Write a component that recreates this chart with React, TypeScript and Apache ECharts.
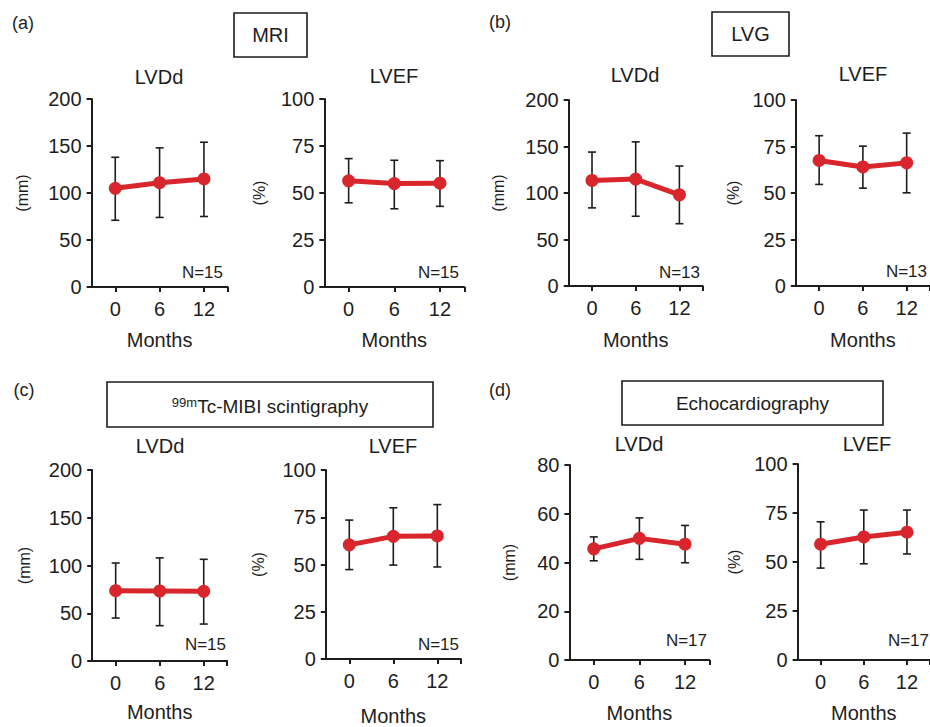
import React, { useEffect, useRef } from "react";
import * as echarts from "echarts";

const months = [0, 6, 12];

const mriLvddMean = [105, 111, 115];
const mriLvddUpper = [138, 148, 154];
const mriLvddLower = [71, 74, 75];
const mriLvefMean = [56.5, 55, 55.2];
const mriLvefUpper = [68.3, 67.4, 67.2];
const mriLvefLower = [44.8, 41.6, 42.9];

const lvgLvddMean = [113.5, 115, 98];
const lvgLvddUpper = [144, 155, 129];
const lvgLvddLower = [84, 75, 67];
const lvgLvefMean = [67.5, 64, 66.2];
const lvgLvefUpper = [80.8, 75.2, 82.2];
const lvgLvefLower = [54.6, 52.6, 50.1];

const mibiLvddMean = [73.6, 73.3, 73];
const mibiLvddUpper = [102.6, 108, 106.5];
const mibiLvddLower = [45, 37, 38.7];
const mibiLvefMean = [60.4, 64.9, 65.1];
const mibiLvefUpper = [73.5, 80, 81.7];
const mibiLvefLower = [47.3, 49.7, 48.7];

const echoLvddMean = [45.6, 49.9, 47.5];
const echoLvddUpper = [50.5, 58.3, 55.2];
const echoLvddLower = [40.7, 41.3, 39.9];
const echoLvefMean = [59.1, 62.8, 65.2];
const echoLvefUpper = [70.5, 76.5, 76.5];
const echoLvefLower = [46.9, 49.1, 54.1];

const panelLabels = ["(a)", "(b)", "(c)", "(d)"];
const modalityTitles = ["MRI", "LVG", "99mTc-MIBI scintigraphy", "Echocardiography"];
const plotTitles = ["LVDd", "LVEF", "LVDd", "LVEF", "LVDd", "LVEF", "LVDd", "LVEF"];
const unitLabels = ["(mm)", "(%)", "(mm)", "(%)", "(mm)", "(%)", "(mm)", "(%)"];
const nLabels = ["N=15", "N=15", "N=13", "N=13", "N=15", "N=15", "N=17", "N=17"];
const yMaxes = [200, 100, 200, 100, 200, 100, 80, 100];
const yIntervals = [50, 25, 50, 25, 50, 25, 20, 25];
const xTickLabels = [0, 6, 12];
const xAxisTitle = "Months";

const seriesMeans = [mriLvddMean, mriLvefMean, lvgLvddMean, lvgLvefMean, mibiLvddMean, mibiLvefMean, echoLvddMean, echoLvefMean];
const seriesUpper = [mriLvddUpper, mriLvefUpper, lvgLvddUpper, lvgLvefUpper, mibiLvddUpper, mibiLvefUpper, echoLvddUpper, echoLvefUpper];
const seriesLower = [mriLvddLower, mriLvefLower, lvgLvddLower, lvgLvefLower, mibiLvddLower, mibiLvefLower, echoLvddLower, echoLvefLower];

// layout (pixels)
const X_MIN = -3.2;
const X_MAX = 15.2;
const grids = [
  { left: 91.6, top: 99, width: 136, height: 188, yGap: 61, xGap: 43 },
  { left: 324.3, top: 99, width: 140, height: 188, yGap: 57, xGap: 43 },
  { left: 568.7, top: 100, width: 134, height: 186, yGap: 62, xGap: 44 },
  { left: 795.8, top: 100, width: 135, height: 186, yGap: 54, xGap: 44 },
  { left: 92.2, top: 470, width: 135, height: 191, yGap: 60, xGap: 41 },
  { left: 325.8, top: 470, width: 135, height: 191, yGap: 59, xGap: 47 },
  { left: 569.4, top: 465, width: 140, height: 195, yGap: 52, xGap: 43 },
  { left: 797.6, top: 464, width: 136.5, height: 196, yGap: 55, xGap: 43 },
];
const plotTitlePos = [
  [159, 77], [394, 76], [635, 75], [863, 74],
  [160, 446], [393, 446], [639, 444], [867, 444],
];
const nPos = [
  [223, 272], [459, 272], [700, 272], [927, 271],
  [226, 644], [459, 644], [707, 640], [929, 640],
];
const panelLabelPos = [[23, 23], [500, 22], [24, 390], [500, 390]];
const boxes = [
  { x: 234, y: 13, w: 73, h: 44 },
  { x: 712, y: 12, w: 77, h: 44 },
  { x: 107, y: 382, w: 326, h: 45 },
  { x: 622, y: 381, w: 261, h: 44 },
];

const FONT = "'Liberation Sans', Arial, Helvetica, sans-serif";
const INK = "#1d1d1d";
const RED = "#d8262c";

export default function App() {
  const ref = useRef<HTMLDivElement>(null);

  useEffect(() => {
    if (!ref.current) return;
    const chart = echarts.init(ref.current, null, { renderer: "svg" });

    const gridOpt = grids.map((g) => ({ left: g.left, top: g.top, width: g.width, height: g.height, containLabel: false }));

    const xAxes = grids.map((g, i) => ({
      type: "value",
      gridIndex: i,
      min: X_MIN,
      max: X_MAX,
      name: xAxisTitle,
      nameLocation: "middle",
      nameGap: g.xGap,
      nameTextStyle: { fontFamily: FONT, fontSize: 20, color: INK },
      axisLine: { show: true, onZero: false, lineStyle: { color: INK, width: 2 } },
      axisTick: { show: true, length: 5, lineStyle: { color: INK, width: 2 }, customValues: [0, 6, 12, X_MAX] },
      axisLabel: { fontFamily: FONT, fontSize: 20, color: INK, margin: 12, customValues: xTickLabels },
      splitLine: { show: false },
    }));

    const yAxes = grids.map((g, i) => ({
      type: "value",
      gridIndex: i,
      min: 0,
      max: yMaxes[i],
      interval: yIntervals[i],
      name: unitLabels[i],
      nameLocation: "middle",
      nameRotate: 90,
      nameGap: g.yGap,
      nameTextStyle: { fontFamily: FONT, fontSize: 16, color: INK },
      axisLine: { show: true, onZero: false, lineStyle: { color: INK, width: 2 } },
      axisTick: { show: true, length: 5, lineStyle: { color: INK, width: 2 } },
      axisLabel: { fontFamily: FONT, fontSize: 20, color: INK, margin: 10 },
      splitLine: { show: false },
    }));

    const series: any[] = [];
    for (let i = 0; i < 8; i++) {
      const errData = months.map((m, k) => [m, seriesMeans[i][k], seriesLower[i][k], seriesUpper[i][k]]);
      series.push({
        type: "custom",
        xAxisIndex: i,
        yAxisIndex: i,
        z: 1,
        data: errData,
        renderItem: (params: any, api: any) => {
          const x = api.value(0);
          const lo = api.coord([x, api.value(2)]);
          const hi = api.coord([x, api.value(3)]);
          const cap = 4;
          const style = { stroke: INK, lineWidth: 1.6 };
          return {
            type: "group",
            children: [
              { type: "line", shape: { x1: hi[0], y1: hi[1], x2: lo[0], y2: lo[1] }, style },
              { type: "line", shape: { x1: hi[0] - cap, y1: hi[1], x2: hi[0] + cap, y2: hi[1] }, style },
              { type: "line", shape: { x1: lo[0] - cap, y1: lo[1], x2: lo[0] + cap, y2: lo[1] }, style },
            ],
          };
        },
      });
      series.push({
        type: "line",
        xAxisIndex: i,
        yAxisIndex: i,
        z: 3,
        data: months.map((m, k) => [m, seriesMeans[i][k]]),
        symbol: "circle",
        symbolSize: 13,
        lineStyle: { color: RED, width: 5 },
        itemStyle: { color: RED },
      });
    }

    const graphics: any[] = [];
    panelLabels.forEach((t, i) => {
      graphics.push({
        type: "text",
        x: panelLabelPos[i][0],
        y: panelLabelPos[i][1],
        style: { text: t, font: `18px ${FONT}`, fill: INK, textAlign: "center", textVerticalAlign: "middle" },
      });
    });
    boxes.forEach((b, i) => {
      graphics.push({
        type: "rect",
        shape: { x: b.x, y: b.y, width: b.w, height: b.h },
        style: { fill: "#ffffff", stroke: INK, lineWidth: 1.6 },
      });
      const title = modalityTitles[i];
      if (title.startsWith("99m")) {
        graphics.push({
          type: "text",
          x: b.x + b.w / 2,
          y: b.y + b.h / 2,
          style: {
            text: "{sup|99m}{main|" + title.slice(3) + "}",
            textAlign: "center",
            textVerticalAlign: "middle",
            rich: {
              sup: { fontFamily: FONT, fontSize: 13, fill: INK, verticalAlign: "top", lineHeight: 15, padding: [2, 0, 0, 0] },
              main: { fontFamily: FONT, fontSize: 19, fill: INK, verticalAlign: "bottom", lineHeight: 22 },
            },
          },
        });
      } else {
        graphics.push({
          type: "text",
          x: b.x + b.w / 2,
          y: b.y + b.h / 2,
          style: { text: title, font: `${i === 3 ? 19 : 20}px ${FONT}`, fill: INK, textAlign: "center", textVerticalAlign: "middle" },
        });
      }
    });
    plotTitles.forEach((t, i) => {
      graphics.push({
        type: "text",
        x: plotTitlePos[i][0],
        y: plotTitlePos[i][1],
        style: { text: t, font: `20px ${FONT}`, fill: INK, textAlign: "center", textVerticalAlign: "middle" },
      });
    });
    nLabels.forEach((t, i) => {
      graphics.push({
        type: "text",
        x: nPos[i][0],
        y: nPos[i][1],
        style: { text: t, font: `17px ${FONT}`, fill: INK, textAlign: "right", textVerticalAlign: "middle" },
      });
    });

    chart.setOption({
      animation: false,
      backgroundColor: "#ffffff",
      grid: gridOpt,
      xAxis: xAxes,
      yAxis: yAxes,
      series,
      graphic: graphics,
    });

    return () => chart.dispose();
  }, []);

  return (
    <div
      ref={ref}
      style={{ position: "absolute", left: 0, top: 0, width: 930, height: 727, background: "#fff" }}
    />
  );
}
